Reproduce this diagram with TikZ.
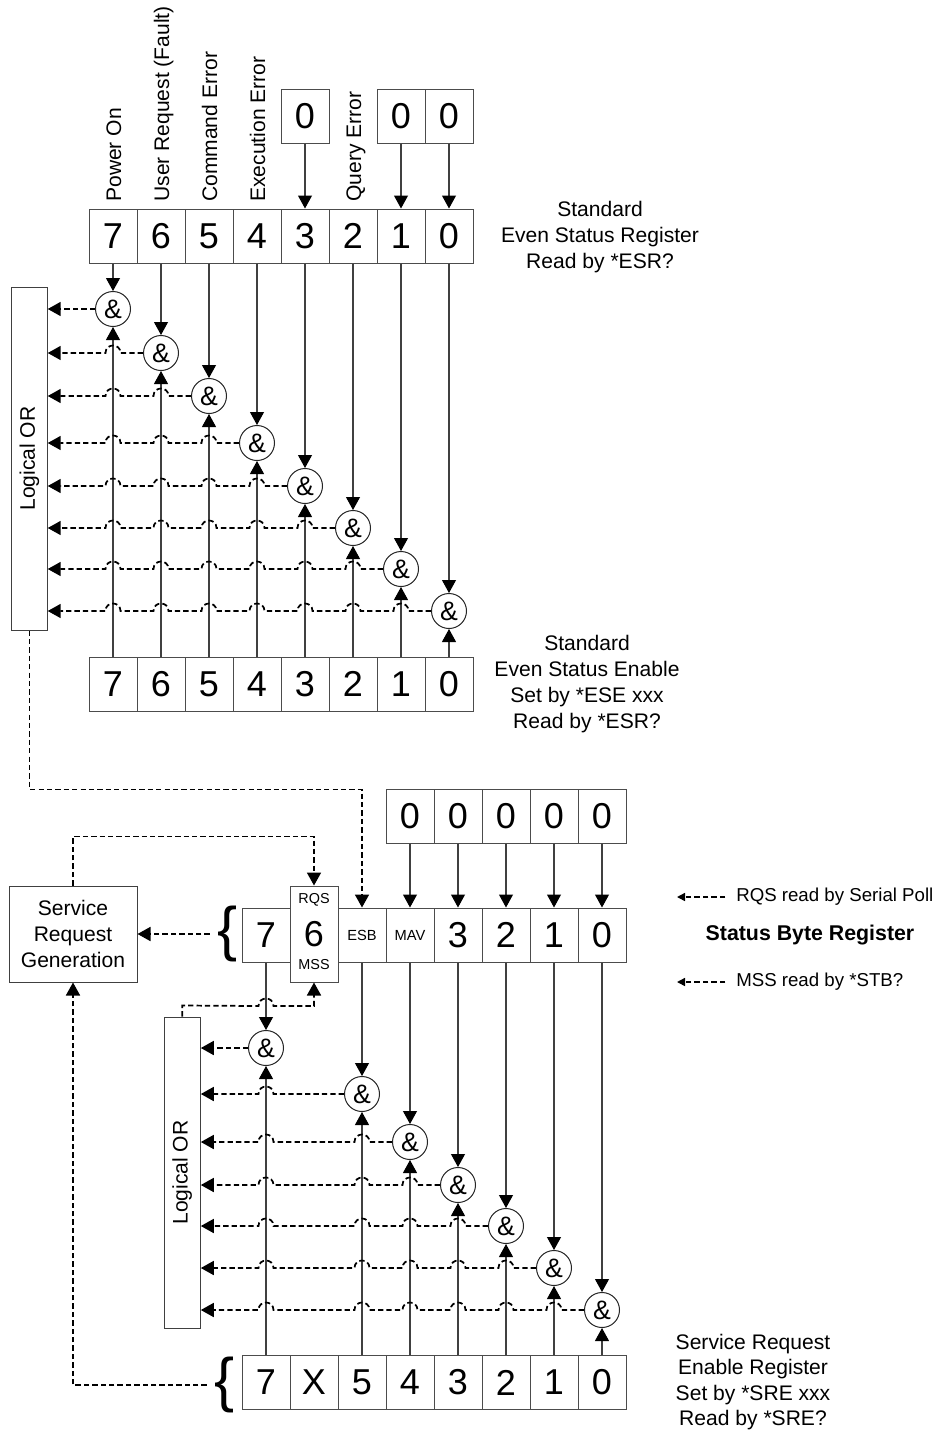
\documentclass[tikz,border=0pt]{standalone}
\usepackage{fontspec}
\setmainfont{Liberation Sans}
\usetikzlibrary{arrows.meta}
\begin{document}
\begin{tikzpicture}[x=0.75pt,y=-0.75pt,
  cell/.style={draw=black!70, line width=0.75pt, minimum width=36pt, minimum height=40.5pt, inner sep=0pt, font=\fontsize{27}{30}\selectfont},
  smallcell/.style={cell, font=\fontsize{11}{12}\selectfont},
  andg/.style={circle, draw=black!85, line width=0.75pt, minimum size=26.25pt, inner sep=0pt, fill=white, font=\fontsize{20}{22}\selectfont},
  orbox/.style={draw=black!75, line width=0.75pt, inner sep=0pt},
  sol/.style={draw=black!75, line width=0.8pt, -{Triangle[length=9.75pt,width=10.5pt,color=black]}},
  dsh/.style={draw=black, line width=1.3pt, dash pattern=on 4pt off 2.3pt, -{Triangle[length=9.75pt,width=10.5pt]}},
  lgd/.style={draw=black, line width=1.1pt, dash pattern=on 4.2pt off 2.2pt, -{Triangle[length=6pt,width=6pt]}},
  txt/.style={inner sep=0pt, align=center, font=\fontsize{15.8}{19.5}\selectfont},
  vlab/.style={rotate=90, anchor=base west, inner sep=0pt, font=\fontsize{15.8}{18}\selectfont},
  brc/.style={inner sep=0pt, font=\fontsize{45}{45}\selectfont}
]
\useasboundingbox (0,0) rectangle (936,1435);

% ================= TOP SECTION =================
\foreach \k/\x/\b in {0/113/7,1/161/6,2/209/5,3/257/4,4/305/3,5/353/2,6/401/1,7/449/0}{
  \node[cell] (t\k) at (\x,236) {\b};
  \node[cell] (b\k) at (\x,684) {\b};
}
\node[cell] (tz4) at (305,116) {0};
\node[cell] (tz6) at (401,116) {0};
\node[cell] (tz7) at (449,116) {0};
\foreach \k in {4,6,7} \draw[sol] (tz\k.south) -- (t\k.north);

\node[vlab] at (121,202) {Power On};
\node[vlab] at (169,202) {User Request (Fault)};
\node[vlab] at (217,202) {Command Error};
\node[vlab] at (265,202) {Execution Error};
\node[vlab] at (361,202) {Query Error};

\foreach \k/\x/\y in {0/113/309,1/161/353,2/209/396,3/257/443,4/305/486,5/353/528,6/401/569,7/449/611}{
  \node[andg] (a\k) at (\x,\y) {\&};
  \draw[sol] (t\k.south) -- (a\k.north);
  \draw[sol] (b\k.north) -- (a\k.south);
}

\node[orbox, minimum width=26.6pt, minimum height=257.25pt] (or1) at (29.5,458.5) {};
\node[rotate=90, inner sep=0pt, font=\fontsize{15.8}{18}\selectfont] at (or1.center) {Logical OR};

\draw[dsh] (a0.west) -- (a0 -| or1.east);
\foreach \k/\y/\hops in {1/353/{113},2/396/{161,113},3/443/{209,161,113},4/486/{257,209,161,113},5/528/{305,257,209,161,113},6/569/{353,305,257,209,161,113},7/611/{401,353,305,257,209,161,113}}{
  \draw[dsh] (a\k.west) foreach \h in \hops { -- (\h+7.5,\y) .. controls (\h+7.5,\y-10) and (\h-7.5,\y-10) .. (\h-7.5,\y) } -- (a\k -| or1.east);
}

\node[txt] (esrlbl) at (600,237) {Standard\\Even Status Register\\Read by *ESR?};
\node[txt] (eselbl) at (587,684) {Standard\\Even Status Enable\\Set by *ESE xxx\\Read by *ESR?};

% ================= BOTTOM SECTION =================
\node[cell] (s7) at (266,935) {7};
\node[smallcell] (s5) at (362,935) {ESB};
\node[smallcell] (s4) at (410,935) {MAV};
\node[cell] (s3) at (458,935) {3};
\node[cell] (s2) at (506,935) {2};
\node[cell] (s1) at (554,935) {1};
\node[cell] (s0) at (602,935) {0};
\node[cell, minimum height=72pt, fill=white] (s6) at (314,934) {6};
\node[inner sep=0pt, font=\fontsize{10.8}{12}\selectfont] (rqs) at (314,900) {RQS};
\node[inner sep=0pt, font=\fontsize{10.8}{12}\selectfont] (mss) at (314,965) {MSS};
\node[brc] (br1) at (228,934) {\{};

\foreach \b/\x in {4/410,3/458,2/506,1/554,0/602}{
  \node[cell] (sz\b) at (\x,816) {0};
  \draw[sol] (sz\b.south) -- (s\b.north);
}

\draw[dsh] (or1.south) -- ++(0,159) -| (s5.north);

\node[draw=black!75, line width=0.75pt, minimum width=96pt, minimum height=72pt, inner sep=0pt, align=center, font=\fontsize{15.8}{19.5}\selectfont] (srg) at (73,934) {Service\\Request\\Generation};
\draw[dsh] ([xshift=-6pt]br1.west) -- (srg.east |- br1.west);
\draw[dsh] (srg.north) -- ++(0,-49) -| (s6.north);

\node[cell] (e7) at (266,1382.5) {7};
\node[cell] (eX) at (314,1382.5) {X};
\node[cell] (e5) at (362,1382.5) {5};
\node[cell] (e4) at (410,1382.5) {4};
\node[cell] (e3) at (458,1382.5) {3};
\node[cell] (e2) at (506,1382.5) {2};
\node[cell] (e1) at (554,1382.5) {1};
\node[cell] (e0) at (602,1382.5) {0};
\node[brc] (br2) at (225,1385) {\{};
\draw[dsh] ([xshift=-6pt]br2.west) -| (srg.south);

\node[orbox, minimum width=27pt, minimum height=233.25pt] (or2) at (182.3,1172.5) {};
\node[rotate=90, inner sep=0pt, font=\fontsize{15.8}{18}\selectfont] at (or2.center) {Logical OR};

\draw[dsh] (or2.north) -- ++(0,-11) -- (258.5,1006) .. controls (258.5,996) and (273.5,996) .. (273.5,1006) -| (s6.south);

\foreach \b/\x/\y in {7/266/1048,5/362/1094,4/410/1142,3/458/1185,2/506/1226,1/554/1268,0/602/1310}{
  \node[andg] (c\b) at (\x,\y) {\&};
  \draw[sol] (s\b.south) -- (c\b.north);
  \draw[sol] (e\b.north) -- (c\b.south);
}
\draw[dsh] (c7.west) -- (c7 -| or2.east);
\foreach \b/\y/\hops in {5/1094/{266},4/1142/{362,266},3/1185/{410,362,266},2/1226/{458,410,362,266},1/1268/{506,458,410,362,266},0/1310/{554,506,458,410,362,266}}{
  \draw[dsh] (c\b.west) foreach \h in \hops { -- (\h+7.5,\y) .. controls (\h+7.5,\y-10) and (\h-7.5,\y-10) .. (\h-7.5,\y) } -- (c\b -| or2.east);
}

\node[inner sep=0pt, anchor=west, font=\fontsize{14}{16}\selectfont] (lg1) at (736,897) {RQS read by Serial Poll};
\node[inner sep=0pt, font=\fontsize{16}{18}\selectfont\bfseries] (lg2) at (810,935) {Status Byte Register};
\node[inner sep=0pt, anchor=west, font=\fontsize{14}{16}\selectfont] (lg3) at (736,982) {MSS read by *STB?};
\coordinate (lg1e) at (677,897);
\coordinate (lg3e) at (677,982);
\draw[lgd] ([xshift=-8pt]lg1.west) -- (lg1e);
\draw[lgd] ([xshift=-8pt]lg3.west) -- (lg3e);

\node[txt, font=\fontsize{15.8}{19}\selectfont] (srelbl) at (753,1382) {Service Request\\Enable Register\\Set by *SRE xxx\\Read by *SRE?};
\end{tikzpicture}
\end{document}
